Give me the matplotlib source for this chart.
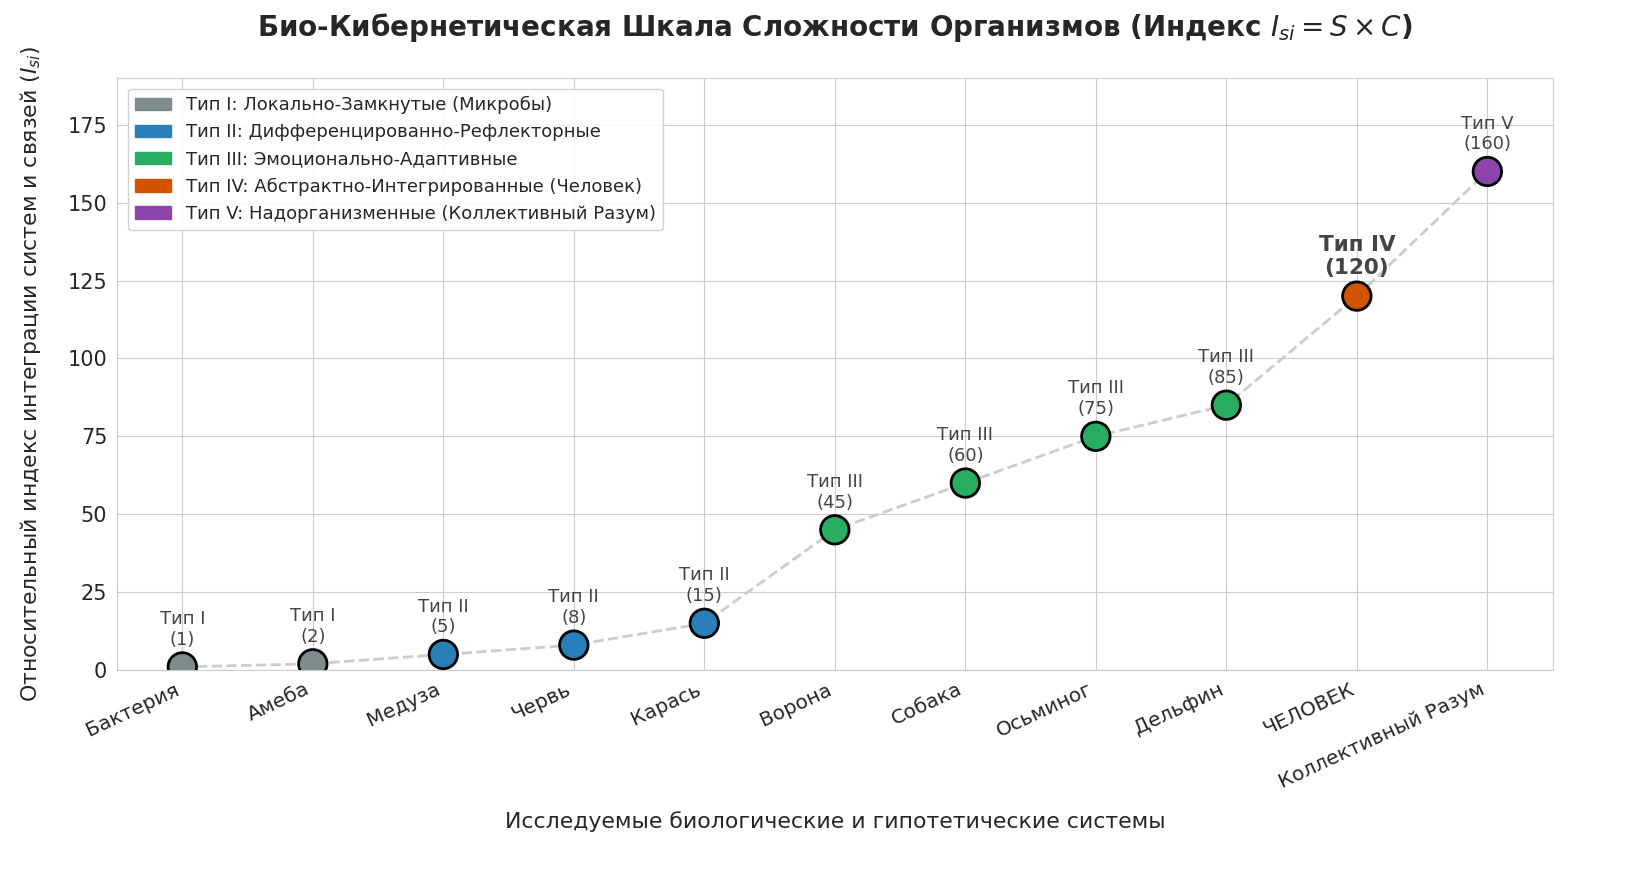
import matplotlib
matplotlib.use("Agg")
import matplotlib.pyplot as plt
import matplotlib.patches as mpatches
import seaborn as sns

sns.set_style("whitegrid")
plt.rcParams['font.family'] = ['DejaVu Sans']

organisms = ["Бактерия", "Амеба", "Медуза", "Червь", "Карась", "Ворона",
             "Собака", "Осьминог", "Дельфин", "ЧЕЛОВЕК", "Коллективный Разум"]
values = [1, 2, 5, 8, 15, 45, 60, 75, 85, 120, 160]
types = ["Тип I", "Тип I", "Тип II", "Тип II", "Тип II", "Тип III",
         "Тип III", "Тип III", "Тип III", "Тип IV", "Тип V"]
type_names = ["Тип I", "Тип II", "Тип III", "Тип IV", "Тип V"]
type_colors = ["#7f8c8d", "#2980b9", "#27ae60", "#d35400", "#8e44ad"]
legend_labels = ["Тип I: Локально-Замкнутые (Микробы)",
                 "Тип II: Дифференцированно-Рефлекторные",
                 "Тип III: Эмоционально-Адаптивные",
                 "Тип IV: Абстрактно-Интегрированные (Человек)",
                 "Тип V: Надорганизменные (Коллективный Разум)"]
yticks = [0, 25, 50, 75, 100, 125, 150, 175]

cmap = dict(zip(type_names, type_colors))
colors = [cmap[t] for t in types]

fig = plt.figure(figsize=(16.35, 8.85), dpi=100)
ax = fig.add_axes([0.0716, 0.2429, 0.878, 0.669])

x = list(range(len(organisms)))
ax.plot(x, values, linestyle='--', color='#cccccc', lw=2, zorder=1)
ax.scatter(x, values, c=colors, s=420, edgecolors='black', linewidths=2, zorder=3)

for xi, v, t in zip(x, values, types):
    bold = (t == "Тип IV")
    ax.annotate(f"{t}\n({v})", (xi, v), xytext=(0, 13), textcoords='offset points',
                ha='center', va='bottom', fontsize=15.5 if bold else 13,
                fontweight='bold' if bold else 'normal', color='#444444')

ax.set_xlim(-0.5, 10.5)
ax.set_ylim(0, 190)
ax.set_yticks(yticks)
ax.set_xticks(x)
ax.set_xticklabels(organisms, rotation=25, ha='right', fontsize=14.5, color='#262626')
ax.tick_params(axis='y', labelsize=15, colors='#262626')
ax.set_xlabel("Исследуемые биологические и гипотетические системы", fontsize=15.8,
              labelpad=14, color='#262626')
ax.set_ylabel("Относительный индекс интеграции систем и связей ($I_{si}$)", fontsize=15.8,
              color='#262626', labelpad=18)
ax.set_title("Био-Кибернетическая Шкала Сложности Организмов (Индекс $I_{si} = S \\times C$)",
             fontsize=20, fontweight='bold', pad=30, color='#262626')

handles = [mpatches.Patch(color=c, label=l) for c, l in zip(type_colors, legend_labels)]
leg = ax.legend(handles=handles, loc='upper left', fontsize=13, frameon=True,
                framealpha=0.9, borderaxespad=0.6)

fig.savefig("out.png", dpi=100)
